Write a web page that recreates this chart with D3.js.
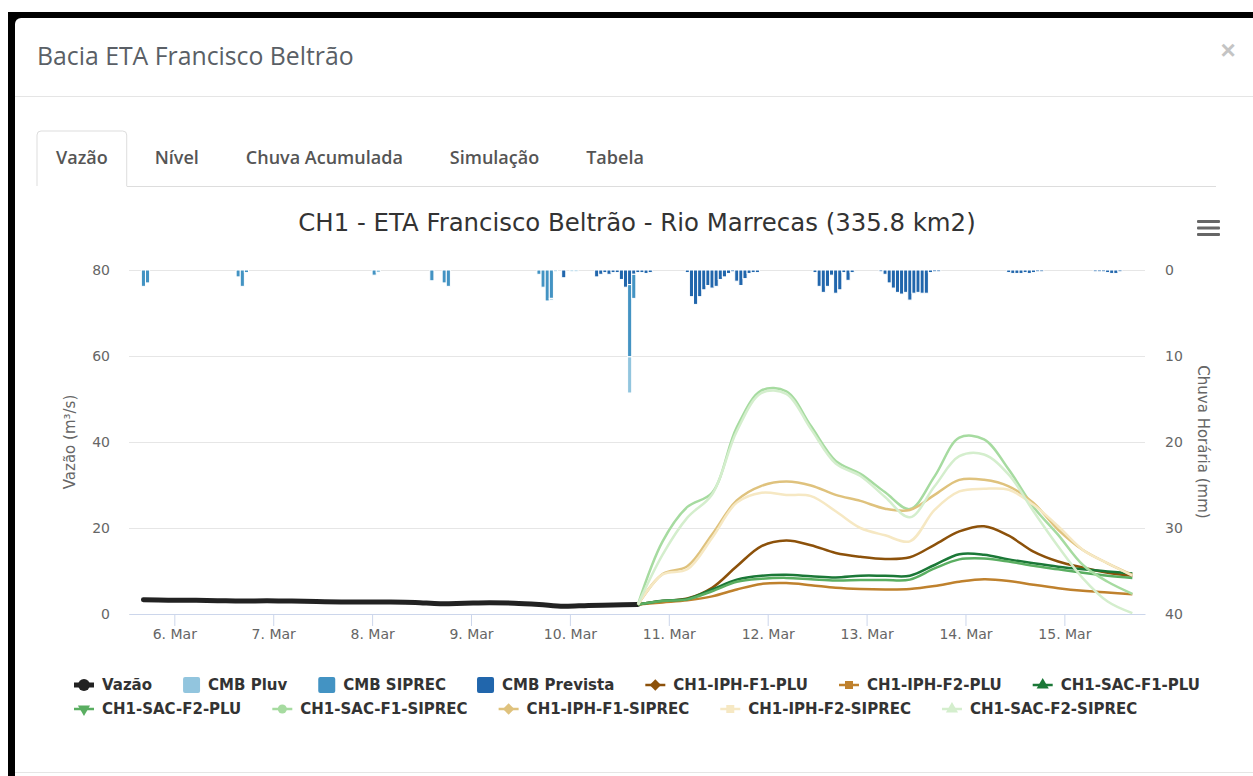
<!DOCTYPE html>
<html>
<head>
<meta charset="utf-8">
<script src="https://cdn.jsdelivr.net/npm/d3@7"></script>
<style>
  body { margin: 0; background: #fff; }
  svg { display: block; }
</style>
</head>
<body>
<svg id="chart" width="1253" height="776"></svg>
<script>
// ---- data ----
var modalTitle = "Bacia ETA Francisco Beltrão";
var chartTitle = "CH1 - ETA Francisco Beltrão - Rio Marrecas (335.8 km2)";
var tabNames = ["Vazão", "Nível", "Chuva Acumulada", "Simulação", "Tabela"];
var leftTicks = [0, 20, 40, 60, 80];
var rightTicks = [0, 10, 20, 30, 40];

// observed flow, every 6 hours from obsStart
var obsStart = "2019-03-05 16:30";
var vazao = [3.3, 3.2, 3.2, 3.1, 3.0, 3.1, 3.0, 2.9, 2.8, 2.8, 2.8, 2.7, 2.4, 2.5, 2.6, 2.5, 2.2, 1.8, 2.0, 2.1, 2.2];

// forecasts, every 6 hours from fcStart
var fcStart = "2019-03-10 16:30";
var iphF1Plu    = [2.2, 3.0, 3.6, 6.1, 11.1, 15.8, 17.1, 16.0, 14.2, 13.3, 12.8, 13.2, 16.1, 19.2, 20.4, 18.2, 14.5, 12.2, 10.8, 9.6, 8.9];
var iphF2Plu    = [2.2, 2.7, 3.2, 4.1, 5.7, 7.0, 7.2, 6.7, 6.1, 5.8, 5.7, 5.8, 6.5, 7.5, 8.1, 7.7, 6.8, 6.0, 5.4, 5.0, 4.6];
var sacF1Plu    = [2.2, 3.1, 3.5, 5.7, 8.0, 8.9, 9.1, 8.8, 8.5, 8.9, 8.9, 8.9, 11.4, 13.9, 13.8, 12.7, 11.8, 11.0, 10.4, 9.9, 9.4];
var sacF2Plu    = [2.2, 3.0, 3.4, 5.3, 7.5, 8.2, 8.4, 8.1, 7.8, 7.9, 7.9, 8.0, 10.6, 12.7, 12.9, 12.2, 11.2, 10.4, 9.6, 8.9, 8.4];
var sacF1Siprec = [2.2, 16.9, 24.9, 28.2, 43.4, 52.0, 51.8, 43.7, 35.6, 32.6, 28.3, 24.4, 32.0, 41.0, 40.6, 33.6, 24.9, 18.4, 11.4, 7.5, 4.7];
var iphF1Siprec = [2.2, 9.3, 11.1, 18.5, 26.4, 29.8, 30.8, 29.9, 27.7, 26.3, 24.5, 24.2, 27.7, 31.2, 31.2, 29.7, 25.8, 19.6, 14.9, 11.8, 9.1];
var iphF2Siprec = [2.2, 9.2, 10.4, 17.7, 25.9, 28.2, 27.7, 27.4, 23.9, 20.0, 18.3, 16.9, 24.2, 28.5, 29.1, 28.9, 25.4, 20.4, 14.9, 11.8, 8.9];
var sacF2Siprec = [2.2, 13.8, 22.4, 27.8, 42.5, 51.4, 51.2, 43.0, 35.0, 32.1, 27.2, 22.5, 29.7, 36.7, 37.1, 32.4, 23.9, 15.7, 8.3, 2.9, 0.2];

// hourly rain (mm)
var cmbPluv = [
  ["2019-03-08 01:30", 0.3], ["2019-03-09 19:30", 0.2], ["2019-03-09 20:30", 0.2],
  ["2019-03-10 00:30", 0.2], ["2019-03-10 01:30", 0.2], ["2019-03-10 14:30", 4.2]
];
var cmbSiprec = [
  ["2019-03-05 16:30", 1.9], ["2019-03-05 17:30", 1.5],
  ["2019-03-06 15:30", 0.8], ["2019-03-06 16:30", 1.9], ["2019-03-06 17:30", 0.3],
  ["2019-03-08 00:30", 0.6], ["2019-03-08 14:30", 1.25], ["2019-03-08 17:30", 1.5], ["2019-03-08 18:30", 1.9],
  ["2019-03-09 16:30", 0.5], ["2019-03-09 17:30", 2.0], ["2019-03-09 18:30", 3.6], ["2019-03-09 19:30", 3.3],
  ["2019-03-10 14:30", 8.4], ["2019-03-10 15:30", 2.8]
];
var cmbPrevista = [
  ["2019-03-09 22:30", 0.9],
  ["2019-03-10 06:30", 0.8], ["2019-03-10 07:30", 0.5], ["2019-03-10 08:30", 0.3], ["2019-03-10 09:30", 0.5],
  ["2019-03-10 10:30", 0.3], ["2019-03-10 11:30", 0.3], ["2019-03-10 12:30", 1.1], ["2019-03-10 13:30", 2.0],
  ["2019-03-10 14:30", 1.7], ["2019-03-10 15:30", 0.5], ["2019-03-10 16:30", 0.3], ["2019-03-10 17:30", 0.3],
  ["2019-03-10 18:30", 0.4], ["2019-03-10 19:30", 0.3],
  ["2019-03-11 04:30", 0.3], ["2019-03-11 05:30", 3.1], ["2019-03-11 06:30", 4.0], ["2019-03-11 07:30", 3.1],
  ["2019-03-11 08:30", 2.3], ["2019-03-11 09:30", 1.8], ["2019-03-11 10:30", 2.1], ["2019-03-11 11:30", 1.9],
  ["2019-03-11 12:30", 1.1], ["2019-03-11 13:30", 0.8], ["2019-03-11 14:30", 0.4], ["2019-03-11 15:30", 0.2],
  ["2019-03-11 16:30", 1.3], ["2019-03-11 17:30", 1.8], ["2019-03-11 18:30", 1.0], ["2019-03-11 19:30", 0.4],
  ["2019-03-11 20:30", 0.3], ["2019-03-11 21:30", 0.3],
  ["2019-03-12 11:30", 0.3], ["2019-03-12 12:30", 1.9], ["2019-03-12 13:30", 2.6], ["2019-03-12 14:30", 1.9],
  ["2019-03-12 15:30", 0.6], ["2019-03-12 16:30", 2.7], ["2019-03-12 17:30", 2.3], ["2019-03-12 18:30", 0.3],
  ["2019-03-12 19:30", 1.2], ["2019-03-12 20:30", 0.3],
  ["2019-03-13 03:30", 0.2], ["2019-03-13 04:30", 0.5], ["2019-03-13 05:30", 1.5], ["2019-03-13 06:30", 2.1],
  ["2019-03-13 07:30", 2.6], ["2019-03-13 08:30", 2.8], ["2019-03-13 09:30", 2.6], ["2019-03-13 10:30", 3.5],
  ["2019-03-13 11:30", 2.7], ["2019-03-13 12:30", 2.6], ["2019-03-13 13:30", 2.7], ["2019-03-13 14:30", 2.7],
  ["2019-03-13 15:30", 0.3], ["2019-03-13 16:30", 0.2], ["2019-03-13 17:30", 0.2],
  ["2019-03-14 10:30", 0.3], ["2019-03-14 11:30", 0.4], ["2019-03-14 12:30", 0.4], ["2019-03-14 13:30", 0.4],
  ["2019-03-14 14:30", 0.3], ["2019-03-14 15:30", 0.4], ["2019-03-14 16:30", 0.3], ["2019-03-14 17:30", 0.2],
  ["2019-03-14 18:30", 0.2],
  ["2019-03-15 07:30", 0.2], ["2019-03-15 08:30", 0.2], ["2019-03-15 09:30", 0.2], ["2019-03-15 10:30", 0.3],
  ["2019-03-15 11:30", 0.4], ["2019-03-15 12:30", 0.4], ["2019-03-15 13:30", 0.2]
];

var parseTime = d3.utcParse("%Y-%m-%d %H:%M");

//6-hourly time stamps for a series
function sixHourly(start, values) {
  var t0 = parseTime(start);
  return values.map(function(v, i) { return { t: d3.utcHour.offset(t0, 6 * i), v: v }; });
}

var lineSeries = [
  { name: "CH1-IPH-F1-PLU",    values: iphF1Plu,    color: "#8c510a", symbol: "diamond" },
  { name: "CH1-IPH-F2-PLU",    values: iphF2Plu,    color: "#bf812d", symbol: "square" },
  { name: "CH1-SAC-F1-PLU",    values: sacF1Plu,    color: "#1b7837", symbol: "triangle" },
  { name: "CH1-SAC-F2-PLU",    values: sacF2Plu,    color: "#5aae61", symbol: "triangle-down" },
  { name: "CH1-SAC-F1-SIPREC", values: sacF1Siprec, color: "#a6dba0", symbol: "circle" },
  { name: "CH1-IPH-F1-SIPREC", values: iphF1Siprec, color: "#dfc27d", symbol: "diamond" },
  { name: "CH1-IPH-F2-SIPREC", values: iphF2Siprec, color: "#f6e8c3", symbol: "square" },
  { name: "CH1-SAC-F2-SIPREC", values: sacF2Siprec, color: "#d4eecd", symbol: "triangle" }
];
var barColors = { pluv: "#92c5de", siprec: "#4393c3", prevista: "#2166ac" };

// ---- page chrome ----
var W = 1253, H = 776;
var svg = d3.select("#chart");
var chartFont = "'DejaVu Sans', Verdana, sans-serif";
var pageFont = "'Open Sans', 'Liberation Sans', sans-serif";

svg.append("rect").attr("width", W).attr("height", H).attr("fill", "#fff");
svg.append("rect").attr("x", 8).attr("y", 12).attr("width", W).attr("height", H).attr("fill", "#000");
svg.append("rect").attr("x", 15).attr("y", 18).attr("width", W + 20).attr("height", H + 20)
  .attr("rx", 6).attr("fill", "#fff");

svg.append("text").attr("x", 37).attr("y", 56).attr("dy", "0.35em")
  .style("font-family", pageFont).style("font-size", "24.8px").attr("fill", "#5a5f66")
  .text(modalTitle);
svg.append("text").attr("x", 1228).attr("y", 50).attr("dy", "0.35em").attr("text-anchor", "middle")
  .style("font-family", "'Liberation Sans', sans-serif").style("font-size", "26px").style("font-weight", "bold")
  .attr("fill", "#c4c4c4").text("×");
svg.append("line").attr("x1", 15).attr("x2", W).attr("y1", 96.5).attr("y2", 96.5).attr("stroke", "#e5e5e5");
svg.append("line").attr("x1", 15).attr("x2", W).attr("y1", 772.5).attr("y2", 772.5).attr("stroke", "#e5e5e5");

// tabs
var tabX = 37, tabTop = 131, tabBottom = 186, tabPad = 19, tabGap = 9;
var tabG = svg.append("g");
var firstTabEnd = 0;
tabNames.forEach(function(name, i) {
  var t = tabG.append("text").attr("y", 158).attr("dy", "0.35em").attr("text-anchor", "middle")
    .style("font-family", pageFont).style("font-size", "18px").style("font-weight", "600")
    .attr("fill", "#555").text(name);
  var w = t.node().getComputedTextLength() + 2 * tabPad;
  t.attr("x", tabX + w / 2);
  if (i === 0) {
    tabG.insert("path", "text")
      .attr("d", "M" + tabX + "," + tabBottom + "V" + (tabTop + 4) + "Q" + tabX + "," + tabTop + " " + (tabX + 4) + "," + tabTop +
        "H" + (tabX + w - 4) + "Q" + (tabX + w) + "," + tabTop + " " + (tabX + w) + "," + (tabTop + 4) + "V" + tabBottom)
      .attr("fill", "#fff").attr("stroke", "#ddd");
    firstTabEnd = tabX + w;
  }
  tabX += w + tabGap;
});
svg.append("line").attr("x1", firstTabEnd).attr("x2", 1216).attr("y1", tabBottom + 0.5).attr("y2", tabBottom + 0.5)
  .attr("stroke", "#ddd");

// chart title and menu icon
svg.append("text").attr("x", 637).attr("y", 222).attr("dy", "0.35em").attr("text-anchor", "middle")
  .style("font-family", chartFont).style("font-size", "24.4px").attr("fill", "#333").text(chartTitle);
svg.append("g").selectAll("rect").data([0, 1, 2]).enter().append("rect")
  .attr("x", 1197).attr("y", function(d) { return 220 + d * 6.5; })
  .attr("width", 23).attr("height", 3).attr("rx", 1).attr("fill", "#666");

// ---- scales ----
var plot = { left: 129, right: 1145, top: 270, bottom: 614 };
var x = d3.scaleUtc()
  .domain([parseTime("2019-03-05 13:00"), parseTime("2019-03-15 19:34")])
  .range([plot.left, plot.right]);
var yL = d3.scaleLinear().domain([0, 80]).range([plot.bottom, plot.top]);
var yR = d3.scaleLinear().domain([0, 40]).range([plot.top, plot.bottom]);

// grid
svg.append("g").attr("transform", "translate(" + plot.left + ",0)")
  .call(d3.axisLeft(yL).tickValues(leftTicks).tickSize(-(plot.right - plot.left)).tickFormat(""))
  .call(function(g) {
    g.select(".domain").remove();
    g.selectAll(".tick line").attr("stroke", "#e6e6e6");
  });

// ---- rain bars, stacked downward from the top ----
var rowsByTime = new Map();
[["prevista", cmbPrevista], ["siprec", cmbSiprec], ["pluv", cmbPluv]].forEach(function(p) {
  p[1].forEach(function(d) {
    if (!rowsByTime.has(d[0])) rowsByTime.set(d[0], { t: parseTime(d[0]), prevista: 0, siprec: 0, pluv: 0 });
    rowsByTime.get(d[0])[p[0]] = d[1];
  });
});
var stacked = d3.stack().keys(["prevista", "siprec", "pluv"])(Array.from(rowsByTime.values()));
var hourW = x(d3.utcHour.offset(x.domain()[0], 1)) - x(x.domain()[0]);

svg.append("g").selectAll("g").data(stacked).enter().append("g")
  .attr("fill", function(layer) { return barColors[layer.key]; })
  .selectAll("rect")
  .data(function(layer) { return layer.filter(function(d) { return d[1] > d[0]; }); })
  .enter().append("rect")
  .attr("x", function(d) { return x(d.data.t) - hourW / 2; })
  .attr("width", hourW)
  .attr("y", function(d) { return yR(d[0]); })
  .attr("height", function(d) { return yR(d[1]) - yR(d[0]); })
  .attr("stroke", "#fff").attr("stroke-width", 1);

// ---- lines ----
var line = d3.line()
  .x(function(d) { return x(d.t); })
  .y(function(d) { return yL(d.v); })
  .curve(d3.curveCatmullRom.alpha(0.5));

svg.append("path").datum(sixHourly(obsStart, vazao))
  .attr("d", line).attr("fill", "none").attr("stroke", "#222")
  .attr("stroke-width", 5).attr("stroke-linecap", "round").attr("stroke-linejoin", "round");

svg.append("g").selectAll("path").data(lineSeries).enter().append("path")
  .attr("d", function(s) { return line(sixHourly(fcStart, s.values)); })
  .attr("fill", "none").attr("stroke", function(s) { return s.color; })
  .attr("stroke-width", 2.5).attr("stroke-linejoin", "round");

// ---- axes ----
var xAxis = svg.append("g").attr("transform", "translate(0," + plot.bottom + ")")
  .call(d3.axisBottom(x).ticks(d3.utcDay.every(1)).tickFormat(d3.utcFormat("%-d. %b")).tickSize(12).tickSizeOuter(0));
xAxis.select(".domain").attr("stroke", "#ccd6eb");
xAxis.selectAll(".tick line").attr("stroke", "#ccd6eb");
xAxis.selectAll(".tick text").attr("y", 20).attr("dy", "0.35em")
  .style("font-family", chartFont).style("font-size", "14px").attr("fill", "#666");

var leftAxis = svg.append("g").attr("transform", "translate(" + 110 + ",0)")
  .call(d3.axisLeft(yL).tickValues(leftTicks).tickSize(0).tickPadding(0));
leftAxis.select(".domain").remove();
leftAxis.selectAll("text").style("font-family", chartFont).style("font-size", "14px").attr("fill", "#666");

var rightAxis = svg.append("g").attr("transform", "translate(" + 1165 + ",0)")
  .call(d3.axisRight(yR).tickValues(rightTicks).tickSize(0).tickPadding(0));
rightAxis.select(".domain").remove();
rightAxis.selectAll("text").style("font-family", chartFont).style("font-size", "14px").attr("fill", "#666");

svg.append("text").attr("transform", "translate(70," + (plot.top + plot.bottom) / 2 + ") rotate(-90)")
  .attr("text-anchor", "middle").attr("dy", "0.35em")
  .style("font-family", chartFont).style("font-size", "15px").attr("fill", "#666").text("Vazão (m³/s)");
svg.append("text").attr("transform", "translate(1203," + (plot.top + plot.bottom) / 2 + ") rotate(90)")
  .attr("text-anchor", "middle").attr("dy", "0.35em")
  .style("font-family", chartFont).style("font-size", "15px").attr("fill", "#666").text("Chuva Horária (mm)");

// ---- legend ----
var legendItems = [{ name: "Vazão", kind: "line", color: "#222", symbol: "circle", width: 5 },
  { name: "CMB Pluv", kind: "bar", color: barColors.pluv },
  { name: "CMB SIPREC", kind: "bar", color: barColors.siprec },
  { name: "CMB Prevista", kind: "bar", color: barColors.prevista }]
  .concat(lineSeries.map(function(s) { return { name: s.name, kind: "line", color: s.color, symbol: s.symbol, width: 2.5 }; }));
var legendRows = [legendItems.slice(0, 7), legendItems.slice(7)];
var rowY = [685, 709];
var itemDistance = 31;
var symbolTypes = {
  "circle": d3.symbolCircle, "diamond": d3.symbolSquare, "square": d3.symbolSquare,
  "triangle": d3.symbolTriangle, "triangle-down": d3.symbolTriangle
};

var legend = svg.append("g");
var rowWidths = [];
var rowGroups = legendRows.map(function(items, r) {
  var g = legend.append("g");
  var cx = 0;
  items.forEach(function(it) {
    var item = g.append("g").attr("transform", "translate(" + cx + "," + rowY[r] + ")");
    var symW = it.kind === "bar" ? 17 : 20;
    if (it.kind === "bar") {
      item.append("rect").attr("x", 0).attr("y", -8).attr("width", 17).attr("height", 16).attr("rx", 2).attr("fill", it.color);
    } else {
      item.append("line").attr("x1", 0).attr("x2", 20).attr("stroke", it.color).attr("stroke-width", it.width);
      var rot = it.symbol === "diamond" ? 45 : (it.symbol === "triangle-down" ? 180 : 0);
      item.append("path").attr("d", d3.symbol(symbolTypes[it.symbol], it.symbol === "circle" && it.width > 3 ? 110 : 64)())
        .attr("transform", "translate(10,0) rotate(" + rot + ")").attr("fill", it.color);
    }
    var t = item.append("text").attr("x", symW + 8).attr("dy", "0.35em")
      .style("font-family", chartFont).style("font-size", "15px").style("font-weight", "bold")
      .attr("fill", "#333").text(it.name);
    cx += symW + 8 + t.node().getComputedTextLength() + itemDistance;
  });
  rowWidths.push(cx - itemDistance);
  return g;
});
var legendLeft = 637 - d3.max(rowWidths) / 2;
rowGroups.forEach(function(g) { g.attr("transform", "translate(" + legendLeft + ",0)"); });
</script>
</body>
</html>
